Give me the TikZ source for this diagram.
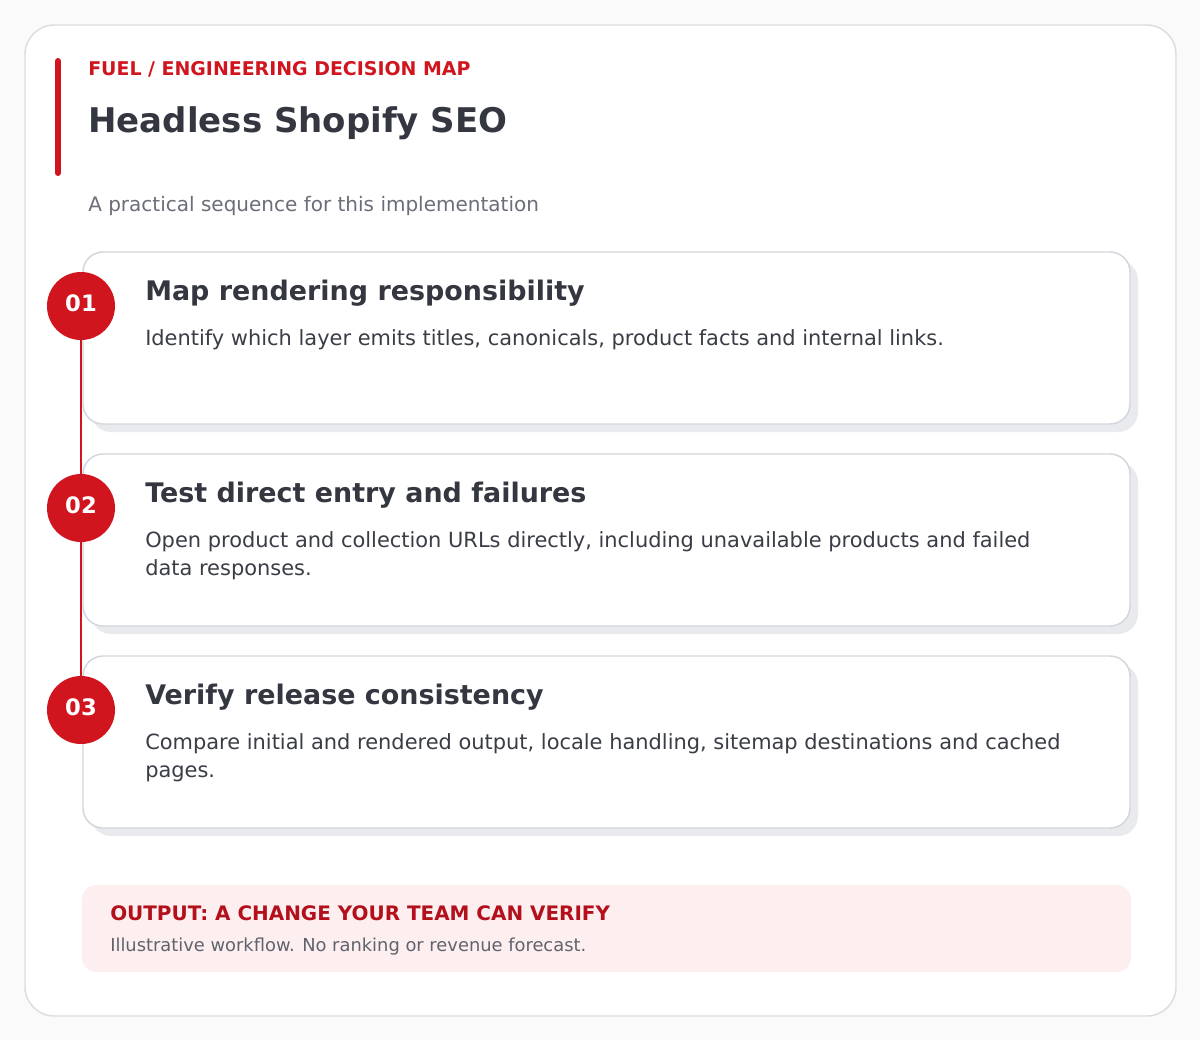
\documentclass[tikz,border=0pt]{standalone}
\usepackage{fontspec}
\setmainfont{DejaVu Sans}
\usepackage{tikz}

\definecolor{pagebg}{HTML}{FAFAFA}
\definecolor{framegray}{HTML}{DCDDE0}
\definecolor{fuelred}{HTML}{D0151F}
\definecolor{darkred}{HTML}{B3101B}
\definecolor{inkdark}{HTML}{343740}
\definecolor{inkbody}{HTML}{3A3D45}
\definecolor{inkgray}{HTML}{6B6E78}
\definecolor{cardline}{HTML}{D3D6DC}
\definecolor{shadowgray}{HTML}{E9EAEE}
\definecolor{notefill}{HTML}{FDEEEF}

\begin{document}
\begin{tikzpicture}[x=0.75pt,y=-0.75pt]
\tikzstyle{every node}+=[inner sep=0pt]
\tikzstyle{kicker}=[anchor=base west, text=fuelred, font=\bfseries\fontsize{14.2pt}{17pt}\selectfont]
\tikzstyle{headline}=[anchor=base west, text=inkdark, font=\bfseries\fontsize{25.5pt}{30pt}\selectfont]
\tikzstyle{subline}=[anchor=base west, text=inkgray, font=\fontsize{15pt}{18pt}\selectfont]
\tikzstyle{cardtitle}=[anchor=base west, text=inkdark, font=\bfseries\fontsize{20.2pt}{24pt}\selectfont]
\tikzstyle{cardbody}=[anchor=base west, text=inkbody, font=\fontsize{15.7pt}{21pt}\selectfont]
\tikzstyle{stepdot}=[circle, fill=fuelred, minimum size=51pt, text=white, font=\bfseries\fontsize{17pt}{20pt}\selectfont]
\tikzstyle{card}=[draw=cardline, line width=1.1pt, fill=white, rounded corners=15pt]
\tikzstyle{cardshadow}=[fill=shadowgray, rounded corners=15pt]

% page and frame
\fill [pagebg] (0,0) rectangle (1200,1040);
\draw [framegray, line width=1.1pt, fill=white, rounded corners=22pt] (25,25) rectangle (1176,1016);

% header
\draw [fuelred, line width=4.5pt, line cap=round] (58,61) -- (58,173);
\draw (88,75) node [kicker] (kick) {FUEL / ENGINEERING DECISION MAP};
\draw (88,132) node [headline] (head) {Headless Shopify SEO};
\draw (88,211) node [subline] (sub) {A practical sequence for this implementation};

% cards
\fill [cardshadow] (91,260) rectangle (1138,432);
\draw [card] (83,252) rectangle (1130,424);
\fill [cardshadow] (91,462) rectangle (1138,634);
\draw [card] (83,454) rectangle (1130,626);
\fill [cardshadow] (91,664) rectangle (1138,836);
\draw [card] (83,656) rectangle (1130,828);

\draw (145,300) node [cardtitle] (t1) {Map rendering responsibility};
\draw (145,345) node [cardbody] (b1) {Identify which layer emits titles, canonicals, product facts and internal links.};
\draw (145,502) node [cardtitle] (t2) {Test direct entry and failures};
\draw (145,547) node [cardbody] (b2a) {Open product and collection URLs directly, including unavailable products and failed};
\draw (145,575) node [cardbody] (b2b) {data responses.};
\draw (145,704) node [cardtitle] (t3) {Verify release consistency};
\draw (145,749) node [cardbody] (b3a) {Compare initial and rendered output, locale handling, sitemap destinations and cached};
\draw (145,777) node [cardbody] (b3b) {pages.};

% step markers
\node (s1) [stepdot] at (81,306) {\raisebox{5pt}{01}};
\node (s2) [stepdot] at (81,508) {\raisebox{5pt}{02}};
\node (s3) [stepdot] at (81,710) {\raisebox{5pt}{03}};
\draw [fuelred, line width=2.2pt] (s1) -- (s2);
\draw [fuelred, line width=2.2pt] (s2) -- (s3);

% output note
\fill [notefill, rounded corners=11pt] (82,885) rectangle (1131,972);
\draw (110,920) node [anchor=base west, text=darkred, font=\bfseries\fontsize{14.95pt}{18pt}\selectfont] (out) {OUTPUT: A CHANGE YOUR TEAM CAN VERIFY};
\draw (110,951) node [anchor=base west, text=inkgray!90!black, font=\fontsize{13.4pt}{16pt}\selectfont] (note) {Illustrative workflow. No ranking or revenue forecast.};
\end{tikzpicture}
\end{document}
